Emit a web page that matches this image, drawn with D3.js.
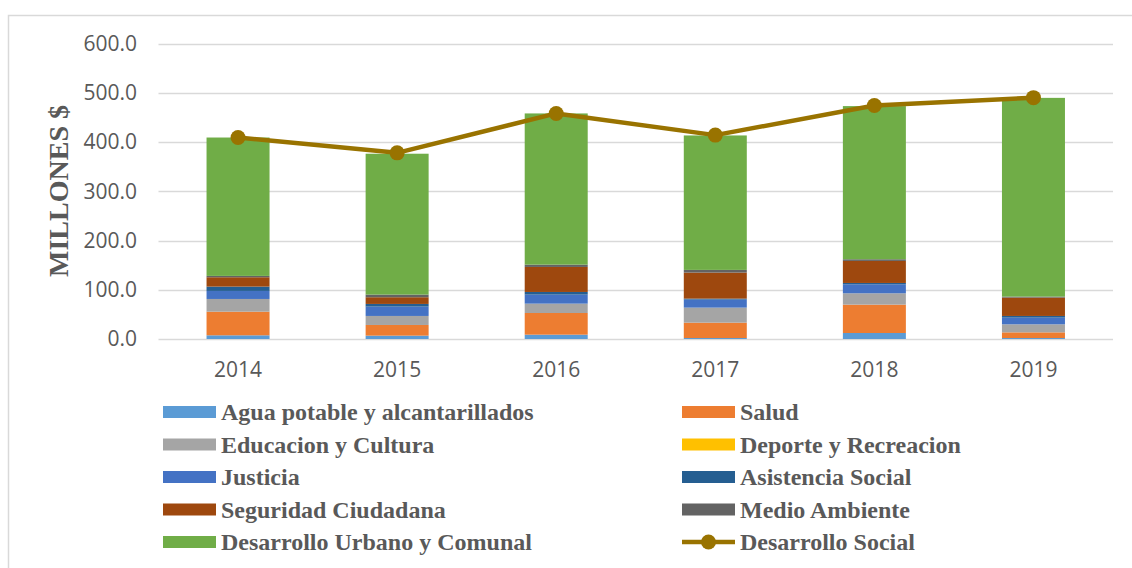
<!DOCTYPE html>
<html>
<head>
<meta charset="utf-8">
<script src="https://cdn.jsdelivr.net/npm/d3@7"></script>
<style>
  body { margin: 0; background: #fff; }
  svg { display: block; }
  .tick-lbl { font-family: "Open Sans", sans-serif; font-size: 21px; fill: #595959; }
  .legend-lbl { font-family: "Liberation Serif", "Times New Roman", serif; font-weight: bold; font-size: 24px; fill: #595959; }
</style>
</head>
<body>
<div id="chart"></div>
<script>
var years = ['2014', '2015', '2016', '2017', '2018', '2019'];
var seriesNames = ['Agua potable y alcantarillados', 'Salud', 'Educacion y Cultura', 'Deporte y Recreacion',
    'Justicia', 'Asistencia Social', 'Seguridad Ciudadana', 'Medio Ambiente', 'Desarrollo Urbano y Comunal'];
var agua = [7.5, 6.8, 8.8, 2.0, 12.2, 2.0];
var salud = [48.0, 21.7, 44.0, 31.2, 57.6, 11.5];
var educacion = [25.8, 18.3, 19.0, 30.5, 23.0, 16.3];
var deporte = [0, 0, 0, 0, 0, 0];
var justicia = [16.3, 19.0, 18.3, 16.3, 18.3, 13.6];
var asistencia = [8.8, 5.4, 5.4, 2.0, 2.7, 3.4];
var seguridad = [19.0, 13.6, 50.8, 52.9, 44.7, 37.3];
var medioAmbiente = [2.7, 5.4, 4.7, 5.4, 3.4, 2.0];
var urbano = [281.0, 286.0, 307.0, 273.0, 311.0, 403.5];
var desarrolloSocial = [409, 378, 458, 414, 474, 490];
var yTicks = [0, 100, 200, 300, 400, 500, 600];

var colors = ['#5B9BD5', '#ED7D31', '#A5A5A5', '#FFC000', '#4472C4', '#255E91', '#9E480E', '#636363', '#70AD47'];
var lineColor = '#997300';

var width = 1132, height = 568;
var svg = d3.select('#chart').append('svg').attr('width', width).attr('height', height);

// chart frame
svg.append('path')
    .attr('d', 'M8.5,' + height + 'V15.5H' + width)
    .attr('fill', 'none').attr('stroke', '#d9d9d9').attr('stroke-width', 1.5);

var plot = { left: 158.5, right: 1113, top: 43.5, bottom: 339 };

var xc = d3.scalePoint().domain(years).range([plot.left, plot.right]).padding(0.5);
var y = d3.scaleLinear().domain([0, 600]).range([plot.bottom, plot.top]);

// grid
svg.append('g').selectAll('line').data(yTicks).enter().append('line')
    .attr('x1', plot.left).attr('x2', plot.right)
    .attr('y1', function(d) { return Math.round(y(d)) + 0.5; })
    .attr('y2', function(d) { return Math.round(y(d)) + 0.5; })
    .attr('stroke', '#d9d9d9').attr('stroke-width', 1.5);

svg.append('g').selectAll('text').data(yTicks).enter().append('text')
    .attr('class', 'tick-lbl')
    .attr('x', 137).attr('y', function(d) { return y(d); })
    .attr('dy', '0.35em').attr('text-anchor', 'end')
    .text(function(d) { return d.toFixed(1); });

svg.append('g').selectAll('text').data(years).enter().append('text')
    .attr('class', 'tick-lbl')
    .attr('x', function(d) { return xc(d); }).attr('y', 377)
    .attr('text-anchor', 'middle')
    .text(function(d) { return d; });

svg.append('text')
    .attr('transform', 'translate(68,191) rotate(-90)')
    .attr('text-anchor', 'middle')
    .style('font-family', '"Liberation Serif", serif').style('font-weight', 'bold')
    .style('font-size', '28px').style('fill', '#595959')
    .text('MILLONES $');

// stacked bars
var allSeries = [agua, salud, educacion, deporte, justicia, asistencia, seguridad, medioAmbiente, urbano];
var rows = years.map(function(yr, i) {
    var r = { year: yr };
    seriesNames.forEach(function(n, k) { r[n] = allSeries[k][i]; });
    return r;
});
var stack = d3.stack().keys(seriesNames)(rows);

var bw = 63;
svg.append('g').selectAll('g').data(stack).enter().append('g')
    .attr('fill', function(d, i) { return colors[i]; })
    .selectAll('rect').data(function(d) { return d; }).enter().append('rect')
    .attr('x', function(d) { return xc(d.data.year) - bw / 2; })
    .attr('width', bw)
    .attr('y', function(d) { return y(d[1]); })
    .attr('height', function(d) { return y(d[0]) - y(d[1]); });

// line
var line = d3.line()
    .x(function(d, i) { return xc(years[i]); })
    .y(function(d) { return y(d); });

svg.append('path').datum(desarrolloSocial)
    .attr('d', line).attr('fill', 'none')
    .attr('stroke', lineColor).attr('stroke-width', 4.5).attr('stroke-linejoin', 'round');

svg.append('g').selectAll('circle').data(desarrolloSocial).enter().append('circle')
    .attr('cx', function(d, i) { return xc(years[i]); })
    .attr('cy', function(d) { return y(d); })
    .attr('r', 7.5).attr('fill', lineColor);

// legend
var legendItems = seriesNames.map(function(n, i) { return { name: n, color: colors[i], type: 'rect' }; });
legendItems.push({ name: 'Desarrollo Social', color: lineColor, type: 'line' });

var legend = svg.append('g').selectAll('g').data(legendItems).enter().append('g')
    .attr('transform', function(d, i) {
        var col = i % 2, row = Math.floor(i / 2);
        return 'translate(' + (col === 0 ? 163 : 682) + ',' + (412 + row * 32.5) + ')';
    });

legend.filter(function(d) { return d.type === 'rect'; }).append('rect')
    .attr('x', 0).attr('y', -6).attr('width', 53).attr('height', 12)
    .attr('fill', function(d) { return d.color; });

var lineItem = legend.filter(function(d) { return d.type === 'line'; });
lineItem.append('line').attr('x1', 0).attr('x2', 53).attr('y1', 0).attr('y2', 0)
    .attr('stroke', lineColor).attr('stroke-width', 4.5);
lineItem.append('circle').attr('cx', 26.5).attr('cy', 0).attr('r', 7.5).attr('fill', lineColor);

legend.append('text')
    .attr('class', 'legend-lbl')
    .attr('x', 58).attr('y', 0).attr('dy', '0.35em')
    .text(function(d) { return d.name; });
</script>
</body>
</html>
